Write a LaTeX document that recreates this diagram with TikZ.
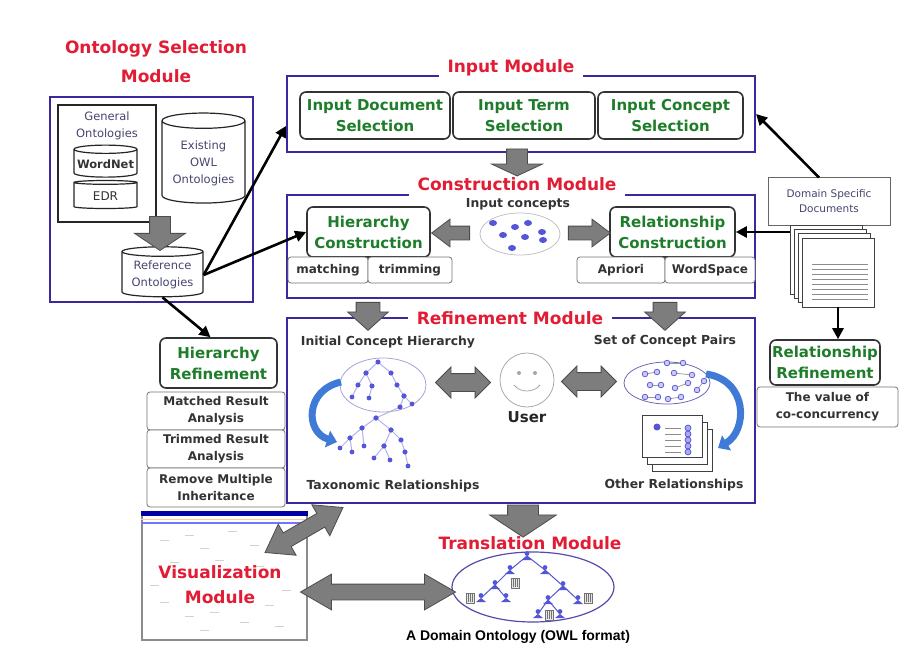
\documentclass[tikz,border=0pt]{standalone}
\usepackage{fontspec}
\setmainfont{DejaVu Sans}
\newfontfamily\capfont{Liberation Sans}
\usetikzlibrary{arrows.meta,shapes.geometric,shapes.arrows,positioning,calc}
\definecolor{modblue}{RGB}{56,42,158}
\definecolor{titlered}{RGB}{226,28,52}
\definecolor{boxgreen}{RGB}{30,125,42}
\definecolor{blockgray}{RGB}{125,125,125}
\definecolor{dotblue}{RGB}{85,85,215}
\definecolor{curveblue}{RGB}{62,122,214}
\definecolor{labelgray}{RGB}{70,70,110}
\tikzset{every picture/.style={line width=0.75pt}}
\tikzset{
  modbox/.style={draw=modblue, line width=2.2pt},
  modtitle/.style={text=titlered, fill=white, inner xsep=9pt, inner ysep=6pt, align=center,
    font=\fontsize{17}{29}\selectfont\bfseries},
  greenbox/.style={draw=black!80, line width=1.6pt, rounded corners=6pt, fill=white, inner xsep=2pt,
    text=boxgreen, align=center, font=\fontsize{15}{21}\selectfont\bfseries},
  subbox/.style={draw=black!55, line width=0.8pt, rounded corners=3pt, fill=white, inner sep=1pt,
    align=center, text=black!80, font=\fontsize{12}{17}\selectfont\bfseries},
  db/.style={cylinder, shape border rotate=90, draw=black!85, line width=1.2pt, fill=white,
    inner sep=1pt, align=center, text=labelgray, font=\fontsize{11.5}{17}\selectfont},
  conn/.style={line width=2.6pt, -{Triangle[length=11pt,width=11pt]}},
  blockarrow/.style={single arrow, draw=black!70, fill=blockgray, line width=0.8pt, inner xsep=0pt},
  dblarrow/.style={double arrow, draw=black!70, fill=blockgray, line width=0.8pt, inner xsep=0pt},
  smalltext/.style={text=black!80, font=\fontsize{12.4}{16}\selectfont\bfseries},
  docpage/.style={draw=black!75, line width=0.8pt, fill=white},
  treeedge/.style={draw=dotblue!45, line width=1pt},
  curvearrow/.style={curveblue, line width=7pt, -{Triangle[length=10pt,width=17pt]}},
}

\begin{document}
\begin{tikzpicture}[x=1pt,y=-1pt]
  \fill[white] (0,0) rectangle (911,650);
  \useasboundingbox (0,0) rectangle (911,650);

  % 本体选择模块
  \node[modtitle, fill=none] (osmtitle) at (156,62) {Ontology Selection\\Module};
  \node[modbox, minimum width=203pt, minimum height=205pt] (osm) at (151.5,199.5) {};
  \node[draw=black!85, line width=1.4pt, minimum width=98pt, minimum height=117pt] (general) at (107,163.5) {};
  \node[text=labelgray, align=center, font=\fontsize{11.5}{17}\selectfont] (genlabel) at (107,126) {General\\Ontologies};
  \node[db, aspect=0.14, minimum width=63pt, minimum height=32pt, text=black!80,
    font=\fontsize{11.5}{14}\selectfont\bfseries] (wordnet) at (105.5,164) {WordNet};
  \node[db, aspect=0.14, minimum width=63pt, minimum height=28pt, text=black!80,
    font=\fontsize{12}{14}\selectfont] (edr) at (105.5,196) {EDR};
  \node[db, aspect=0.24, minimum width=83pt, minimum height=90pt] (owlonts) at (203.5,163) {Existing\\OWL\\Ontologies};
  \node[db, aspect=0.15, minimum width=81pt, minimum height=50pt] (refonts) at (162.5,275) {Reference\\Ontologies};
  \node[blockarrow, rotate=-90, minimum height=34pt, inner ysep=10pt, single arrow head extend=15pt,
    single arrow tip angle=112] (osmarrow) at (160,230) {};

  % 输入模块
  \node[modbox, minimum width=468pt, minimum height=76pt] (inmod) at (521,114) {};
  \node[modtitle] (intitle) at (511,68) {Input Module};
  \node[greenbox, minimum width=150pt, minimum height=47pt] (indoc) at (375,115.5) {Input Document\\Selection};
  \node[greenbox, minimum width=142pt, minimum height=47pt] (interm) at (524,115.5) {Input Term\\Selection};
  \node[greenbox, minimum width=145pt, minimum height=47pt] (inconc) at (670.5,115.5) {Input Concept\\Selection};

  % 构建模块
  \node[modbox, minimum width=468pt, minimum height=103pt] (conmod) at (521,246.5) {};
  \node[modtitle, inner ysep=7pt] (contitle) at (517,184) {Construction Module};
  \node[blockarrow, rotate=-90, minimum height=27pt, inner ysep=10pt, single arrow head extend=15pt,
    single arrow tip angle=130] (inarrow) at (517,160) {};
  \node[smalltext] (conlabel) at (518,204) {Input concepts};
  \node[draw=black!25, ellipse, minimum width=80pt, minimum height=42pt] (concepts) at (520,234) {};
  \foreach \x/\y in {493/223,515/227,528/223,542/232,503/235,525/237,543/240,512/248}
    \fill[dotblue] (\x,\y) ellipse (4pt and 3pt);
  \node[greenbox, minimum width=123pt, minimum height=50pt] (hcons) at (368.5,232) {Hierarchy\\Construction};
  \node[greenbox, minimum width=125pt, minimum height=50pt] (rcons) at (672.5,232) {Relationship\\Construction};
  \node[subbox, minimum width=80pt, minimum height=26pt] (matching) at (328,270) {matching};
  \node[subbox, minimum width=84pt, minimum height=26pt] (trimming) at (410,270) {trimming};
  \node[subbox, minimum width=88pt, minimum height=26pt] (apriori) at (621,270) {Apriori};
  \node[subbox, minimum width=90pt, minimum height=26pt] (wordspace) at (710,270) {WordSpace};
  \node[blockarrow, rotate=180, minimum height=38pt, inner ysep=6.5pt, single arrow head extend=7pt,
    single arrow tip angle=74] (toh) at ($(hcons.east)!0.5!(concepts.west)$) {};
  \node[blockarrow, minimum height=42pt, inner ysep=6.5pt, single arrow head extend=7pt,
    single arrow tip angle=74] (tor) at ($(concepts.east)!0.5!(rcons.west)$) {};

  % 领域文档
  \node[draw=black!60, line width=1pt, minimum width=122pt, minimum height=47pt, align=center,
    text=labelgray, font=\fontsize{10.5}{15}\selectfont] (domdoc) at (829,201.5) {Domain Specific\\Documents};
  \foreach \i in {0,...,3}
    \node[docpage, minimum width=72pt, minimum height=69pt] (page\i) at (826+4*\i,259.5+4.3*\i) {};
  \foreach \i in {0,...,7}
    \draw[black!45] ($(page3.west)+(10,-8+5*\i)$) -- ($(page3.east)+(-6,-8+5*\i)$);

  % 精化模块
  \node[modbox, minimum width=468pt, minimum height=185pt] (refmod) at (521,410.5) {};
  \node[modtitle] (reftitle) at (510,318) {Refinement Module};
  \node[blockarrow, rotate=-90, minimum height=28pt, inner ysep=11.5pt, single arrow head extend=8.5pt,
    single arrow tip angle=96] (hdown) at (368,311) {};
  \node[blockarrow, rotate=-90, minimum height=28pt, inner ysep=11.5pt, single arrow head extend=8.5pt,
    single arrow tip angle=96] (rdown) at (665,311) {};
  \node[smalltext] (initlabel) at (388,342) {Initial Concept Hierarchy};
  \node[draw=modblue!45, ellipse, minimum width=86pt, minimum height=54pt] (hier) at (383,385) {};
  \foreach \xa/\ya/\xb/\yb in {378/362/366/373, 378/362/391/373, 366/373/358/385, 366/373/372/386,
      391/373/397/385, 358/385/352/397, 372/386/369/398, 397/385/404/396, 404/396/400/407, 404/396/412/404,
      400/407/376/418, 376/418/362/428, 376/418/391/430, 362/428/350/438, 362/428/364/446,
      350/438/340/448, 350/438/352/452, 391/430/384/446, 391/430/401/440, 384/446/374/458,
      384/446/390/460, 401/440/405/452, 405/452/408/466} {
    \draw[treeedge] (\xa,\ya) -- (\xb,\yb);
    \fill[dotblue] (\xa,\ya) circle (2.4pt) (\xb,\yb) circle (2.4pt);
  }
  \draw[curvearrow] (341,382) .. controls (305,390) and (305,432) .. (337,442);
  \node[smalltext] (taxolabel) at (393,486) {Taxonomic Relationships};

  \node[draw=black!35, circle, minimum size=54pt] (user) at (527,380) {};
  \fill[black!35] ($(user)+(-8,-7)$) circle (2pt) ($(user)+(8,-7)$) circle (2pt);
  \draw[black!35] ($(user)+(-13,5)$) .. controls ($(user)+(-7,13)$) and ($(user)+(7,13)$) .. ($(user)+(13,5)$);
  \node[font=\fontsize{15}{18}\selectfont\bfseries, text=black!85] (userlabel) at (527,417) {User};

  \node[smalltext] (pairlabel) at (665,341) {Set of Concept Pairs};
  \node[draw=modblue!75, ellipse, minimum width=86pt, minimum height=42pt] (pairs) at (667,383) {};
  \foreach \xa/\ya/\xb/\yb in {645/374/657/372, 667/363/683/363, 674/373/692/375, 650/385/661/385,
      675/388/688/383, 697/390/704/381, 645/397/658/397, 668/399/681/397} {
    \draw[black!40] (\xa,\ya) -- (\xb,\yb);
    \draw[dotblue, fill=dotblue!30] (\xa,\ya) circle (2.8pt) (\xb,\yb) circle (2.8pt);
  }
  \foreach \i in {2,1,0}
    \node[docpage, minimum width=60pt, minimum height=42pt] (other\i) at (672+5*\i,436+7*\i) {};
  \fill[dotblue] (657,427) circle (3.5pt);
  \foreach \y in {428,434,440,446,452} {
    \draw[black!45] (665,\y) -- (681,\y);
    \draw[dotblue, fill=dotblue!50] (688,\y) circle (3pt);
  }
  \draw[curvearrow] (706,374) .. controls (748,380) and (748,430) .. (718,448);
  \node[smalltext] (otherlabel) at (674,485) {Other Relationships};
  \node[dblarrow, minimum height=55pt, inner ysep=8.5pt, double arrow head extend=6.5pt] (hieruser)
    at ($(hier.east)!0.5!(user.west)$) {};
  \node[dblarrow, minimum height=55pt, inner ysep=8.5pt, double arrow head extend=6.5pt] (userpairs)
    at ($(user.east)!0.5!(pairs.west)$) {};

  % 层次精化与关系精化
  \node[greenbox, minimum width=117pt, minimum height=50pt] (href) at (218.5,363) {Hierarchy\\Refinement};
  \node[subbox, minimum width=138pt, minimum height=38pt] (matched) at (216,411) {Matched Result\\Analysis};
  \node[subbox, minimum width=138pt, minimum height=38pt] (trimmed) at (216,449) {Trimmed Result\\Analysis};
  \node[subbox, minimum width=138pt, minimum height=39pt] (removemi) at (216,487.5) {Remove Multiple\\Inheritance};
  \node[greenbox, minimum width=110pt, minimum height=45pt] (rref) at (825,362.5) {Relationship\\Refinement};
  \node[subbox, minimum width=141pt, minimum height=40pt] (cocon) at (827.5,407) {The value of\\co-concurrency};

  % 翻译模块
  \node[blockarrow, rotate=-90, minimum height=32pt, inner ysep=15pt, single arrow head extend=18pt,
    single arrow tip angle=113] (transarrow) at (523,516) {};
  \node[modtitle, fill=none] (transtitle) at (530,543) {Translation Module};
  \node[draw=modblue!85, line width=1.2pt, ellipse, minimum width=162pt, minimum height=70pt] (domonto) at (533,587) {};
  \foreach \xa/\ya/\xb/\yb in {527/556/510/570, 527/556/545/570, 510/570/495/585, 545/570/563/586,
      495/585/481/598, 495/585/506/598, 563/586/548/600, 563/586/578/600, 548/600/538/614, 548/600/560/614}
    \draw[dotblue, line width=1pt] (\xa,\ya) -- (\xb,\yb);
  \foreach \x/\y in {527/556, 510/570, 545/570, 495/585, 563/586, 481/598, 506/598, 548/600, 578/600, 538/614, 560/614} {
    \fill[dotblue] (\x,\y-2.5) circle (2.4pt);
    \fill[dotblue] (\x-5,\y+4) -- (\x,\y) -- (\x+5,\y+4) -- cycle;
  }
  \foreach \x/\y in {515/583, 470/598, 588/598, 549/615} {
    \draw[black!55, fill=black!10] (\x-4,\y-5) rectangle (\x+4,\y+5);
    \foreach \dx in {-2,0,2}
      \draw[black!55, line width=0.4pt] (\x+\dx,\y-4) -- (\x+\dx,\y+4);
  }
  \node[font=\capfont\bfseries\fontsize{14}{16}\selectfont] (ontolabel) at (518,637) {A Domain Ontology (OWL format)};

  % 可视化模块
  \node[draw=black!45, line width=1.5pt, fill=white, minimum width=165pt, minimum height=128pt] (viswin) at (224.5,576) {};
  \fill[blue!65!black] (viswin.north west) rectangle ($(viswin.north east)+(0,5)$);
  \draw[orange!40, line width=1pt] ($(viswin.north west)+(0,8)$) -- ($(viswin.north east)+(0,8)$);
  \draw[blue!55, line width=2pt] ($(viswin.north west)+(0,12)$) -- ($(viswin.north east)+(0,12)$);
  \foreach \x/\y in {160/540, 200/548, 250/545, 170/562, 255/566, 160/602, 210/612, 265/605, 275/626, 200/630}
    \draw[green!50!black!25] (\x,\y) -- ++(9,0);
  \foreach \x/\y in {185/535, 228/531, 215/560, 185/616, 240/622, 282/590, 150/585}
    \draw[black!18] (\x,\y) -- ++(9,0);
  \node[modtitle, fill=none, font=\fontsize{17}{25}\selectfont\bfseries] (vistitle) at (220,584.5) {Visualization\\Module};
  \node[dblarrow, minimum height=155pt, inner ysep=7.5pt, double arrow head extend=10pt,
    double arrow tip angle=60] (visonto) at (378,592) {};
  \node[dblarrow, rotate=30, minimum height=90pt, inner ysep=7.5pt, double arrow head extend=10pt,
    double arrow tip angle=70] (visref) at (304,530) {};

  % 连接箭头
  \draw[conn] (refonts.east) -- ($(inmod.west)+(0,12)$);
  \draw[conn] (refonts.east) -- (hcons.west);
  \draw[conn] (refonts.south) -- ($(href.north)+(-8,0)$);
  \draw[conn] ($(domdoc.north)+(-10,0)$) -- (inmod.east);
  \draw[conn] (page0.west |- rcons.east) -- (rcons.east);
  \draw[conn] (page3.south) -- (page3.south |- rref.north);
\end{tikzpicture}
\end{document}
